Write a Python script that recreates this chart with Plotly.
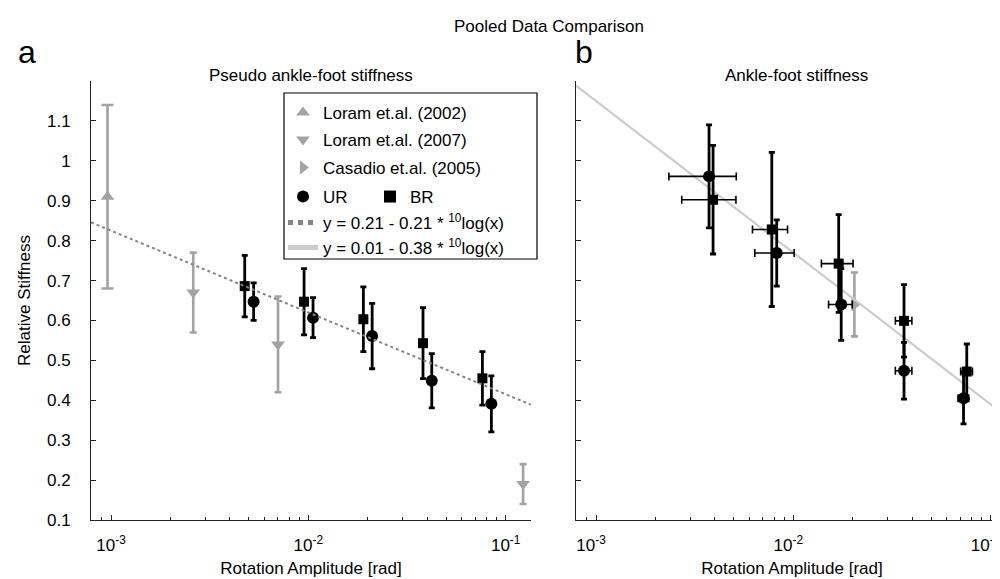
import numpy as np
import plotly.graph_objects as go

# ---------------- data ----------------
# Panel a: pseudo ankle-foot stiffness
left_ur_x = [0.00528, 0.01056, 0.02105, 0.0422, 0.0846]
left_ur_y = [0.647, 0.607, 0.561, 0.449, 0.391]
left_ur_err = [0.047, 0.050, 0.082, 0.068, 0.070]

left_br_x = [0.00476, 0.00951, 0.0190, 0.0381, 0.0762]
left_br_y = [0.686, 0.647, 0.603, 0.543, 0.455]
left_br_err = [0.077, 0.083, 0.081, 0.089, 0.067]

loram2002_x = [0.00096]
loram2002_y = [0.91]
loram2002_err = [0.23]

loram2007_x = [0.00261, 0.00702, 0.1225]
loram2007_y = [0.67, 0.54, 0.19]
loram2007_err = [0.10, 0.12, 0.05]

# Panel b: ankle-foot stiffness
casadio_x = [0.0204]
casadio_y = [0.64]
casadio_err = [0.08]

right_ur_x = [0.00374, 0.00824, 0.01749, 0.0364, 0.0729]
right_ur_xerr = [0.0014, 0.00186, 0.0024, 0.0035, 0.0045]
right_ur_y = [0.961, 0.769, 0.640, 0.474, 0.405]
right_ur_yerr = [0.129, 0.083, 0.090, 0.071, 0.064]

right_br_x = [0.00392, 0.00778, 0.01698, 0.0364, 0.0757]
right_br_xerr = [0.0012, 0.00157, 0.0031, 0.0035, 0.0052]
right_br_y = [0.9025, 0.828, 0.7425, 0.599, 0.472]
right_br_yerr = [0.136, 0.193, 0.1225, 0.091, 0.069]

# Fit lines: y = a + b*log10(x)
pseudo_fit = [0.21, -0.205]
ankle_fit = [0.01, -0.38]
pseudo_label = "y = 0.21 - 0.21 * <sup>10</sup>log(x)"
ankle_label = "y = 0.01 - 0.38 * <sup>10</sup>log(x)"

x_tickvals = [0.001, 0.01, 0.1]
x_ticktext = ["10<sup>-3</sup>", "10<sup>-2</sup>", "10<sup>-1</sup>"]
y_tickvals = [0.1, 0.2, 0.3, 0.4, 0.5, 0.6, 0.7, 0.8, 0.9, 1.0, 1.1]
y_ticktext = ["0.1", "0.2", "0.3", "0.4", "0.5", "0.6", "0.7", "0.8", "0.9", "1", "1.1"]

# ---------------- layout constants ----------------
W, H = 1000, 579
FONT = "Liberation Sans, Arial, Helvetica, sans-serif"
GRAY = "#a3a3a3"
xr_left = [-3.1014, -0.8718]
xr_right = [-3.1014, -0.9119]
yr = [0.1, 1.2]

def px(v):
    return v / W

def py(v):
    return 1 - v / H

fig = go.Figure()

def ebar(arr, color, thick=2.8, width=3):
    return dict(type="data", array=arr, symmetric=True, color=color,
                thickness=thick, width=width)

# literature data
fig.add_trace(go.Scatter(x=loram2002_x, y=loram2002_y, mode="markers",
                         name="Loram et.al. (2002)",
                         marker=dict(symbol="triangle-up", size=12, color=GRAY),
                         error_y=ebar(loram2002_err, GRAY, 2.6, 6),
                         xaxis="x", yaxis="y", legend="legend"))
fig.add_trace(go.Scatter(x=loram2007_x, y=loram2007_y, mode="markers",
                         name="Loram et.al. (2007)",
                         marker=dict(symbol="triangle-down", size=12, color=GRAY),
                         error_y=ebar(loram2007_err, GRAY, 2.6, 3.5),
                         xaxis="x", yaxis="y", legend="legend2"))
fig.add_trace(go.Scatter(x=casadio_x, y=casadio_y, mode="markers",
                         name="Casadio et.al. (2005)",
                         marker=dict(symbol="triangle-right", size=12, color=GRAY),
                         error_y=ebar(casadio_err, GRAY, 2.6, 3.5),
                         xaxis="x2", yaxis="y2", legend="legend3"))

# UR / BR (panel a)
fig.add_trace(go.Scatter(x=left_ur_x, y=left_ur_y, mode="markers", name="UR",
                         marker=dict(symbol="circle", size=12, color="black"),
                         error_y=ebar(left_ur_err, "black"),
                         xaxis="x", yaxis="y", legend="legend4", legendgroup="UR"))
fig.add_trace(go.Scatter(x=left_br_x, y=left_br_y, mode="markers", name="BR",
                         marker=dict(symbol="square", size=10, color="black"),
                         error_y=ebar(left_br_err, "black"),
                         xaxis="x", yaxis="y", legend="legend4", legendgroup="BR"))

# fit lines
xl = 10 ** np.array(xr_left)
fig.add_trace(go.Scatter(x=xl, y=pseudo_fit[0] + pseudo_fit[1] * np.log10(xl),
                         mode="lines", name=pseudo_label,
                         line=dict(color="#858585", width=2, dash="dot"),
                         xaxis="x", yaxis="y", legend="legend5"))
xr2 = 10 ** np.array(xr_right)
fig.add_trace(go.Scatter(x=xr2, y=ankle_fit[0] + ankle_fit[1] * np.log10(xr2),
                         mode="lines", name=ankle_label,
                         line=dict(color="#cccccc", width=2.2),
                         xaxis="x2", yaxis="y2", legend="legend6"))

# panel b data
fig.add_trace(go.Scatter(x=right_ur_x, y=right_ur_y, mode="markers", name="UR",
                         marker=dict(symbol="circle", size=12, color="black"),
                         error_y=ebar(right_ur_yerr, "black"),
                         error_x=dict(type="data", array=right_ur_xerr, symmetric=True,
                                      color="black", thickness=1.6, width=4),
                         xaxis="x2", yaxis="y2", showlegend=False, legendgroup="UR"))
fig.add_trace(go.Scatter(x=right_br_x, y=right_br_y, mode="markers", name="BR",
                         marker=dict(symbol="square", size=10, color="black"),
                         error_y=ebar(right_br_yerr, "black"),
                         error_x=dict(type="data", array=right_br_xerr, symmetric=True,
                                      color="black", thickness=1.6, width=4),
                         xaxis="x2", yaxis="y2", showlegend=False, legendgroup="BR"))

ydom = [67 / H, 1 - 73 / H]

def xaxis(dom, rng, anchor, shift=0):
    return dict(type="log", domain=dom, range=rng, anchor=anchor,
                tickmode="array", tickvals=x_tickvals, ticktext=x_ticktext,
                ticks="inside", ticklen=5, tickcolor="#222", tickwidth=1,
                minor=dict(ticks="inside", ticklen=3, dtick="D1", tickcolor="#222",
                           showgrid=False),
                showline=True, linecolor="#222", linewidth=1,
                showgrid=False, zeroline=False, mirror=False,
                tickfont=dict(size=17, color="black", family=FONT),
                ticklabelstandoff=10, ticklabelshift=shift,
                title=dict(text="Rotation Amplitude [rad]", standoff=7,
                           font=dict(size=17, color="black", family=FONT)),
                automargin=False)

def yaxis(anchor, labels=True):
    d = dict(domain=ydom, range=yr, anchor=anchor,
             tickmode="array", tickvals=y_tickvals, ticktext=y_ticktext,
             ticks="inside", ticklen=5, tickcolor="#222",
             showline=True, linecolor="#222", linewidth=1,
             showgrid=False, zeroline=False, showticklabels=labels,
             tickfont=dict(size=17, color="black", family=FONT),
             ticklabelstandoff=16, automargin=False)
    if labels:
        d["title"] = dict(text="Relative Stiffness", standoff=12,
                          font=dict(size=17, color="black", family=FONT))
    return d

legend_common = dict(bgcolor="rgba(0,0,0,0)", borderwidth=0,
                     font=dict(size=17, color="black", family=FONT),
                     xanchor="left", yanchor="top", itemsizing="constant",
                     tracegroupgap=0, itemwidth=30)

LX = px(275)
row_tops = [87, 114, 142, 171, 197, 222]

fig.update_layout(
    width=W, height=H,
    margin=dict(l=0, r=0, t=0, b=0),
    paper_bgcolor="white", plot_bgcolor="white",
    font=dict(family=FONT, color="black"),
    xaxis=xaxis([83 / W, 523 / W], xr_left, "y"),
    yaxis=yaxis("x", True),
    xaxis2=xaxis([568 / W, 1.0], xr_right, "y2", shift=-5),
    yaxis2=yaxis("x2", False),
    legend=dict(x=LX, y=py(row_tops[0]), **legend_common),
    legend2=dict(x=LX, y=py(row_tops[1]), **legend_common),
    legend3=dict(x=LX, y=py(row_tops[2]), **legend_common),
    legend4=dict(x=LX, y=py(row_tops[3]), orientation="h", entrywidth=42,
                 entrywidthmode="pixels", **legend_common),
    legend5=dict(x=LX, y=py(row_tops[4]), **legend_common),
    legend6=dict(x=LX, y=py(row_tops[5]), **legend_common),
    shapes=[dict(type="rect", xref="paper", yref="paper",
                 x0=px(276), x1=px(529), y0=py(251), y1=py(85),
                 line=dict(color="black", width=1.2), fillcolor="rgba(0,0,0,0)",
                 layer="below")],
    annotations=[
        dict(text="Pooled Data Comparison", x=px(541), y=py(18), xref="paper", yref="paper",
             showarrow=False, xanchor="center", yanchor="middle",
             font=dict(size=17, family=FONT, color="black")),
        dict(text="Pseudo ankle-foot stiffness", x=px(303), y=py(67), xref="paper", yref="paper",
             showarrow=False, xanchor="center", yanchor="middle",
             font=dict(size=17, family=FONT, color="black")),
        dict(text="Ankle-foot stiffness", x=px(788), y=py(67), xref="paper", yref="paper",
             showarrow=False, xanchor="center", yanchor="middle",
             font=dict(size=17, family=FONT, color="black")),
        dict(text="a", x=px(19), y=py(44), xref="paper", yref="paper",
             showarrow=False, xanchor="center", yanchor="middle",
             font=dict(size=32, family=FONT, color="black")),
        dict(text="b", x=px(576), y=py(44), xref="paper", yref="paper",
             showarrow=False, xanchor="center", yanchor="middle",
             font=dict(size=32, family=FONT, color="black")),
    ],
)

fig.write_html("out.html")
